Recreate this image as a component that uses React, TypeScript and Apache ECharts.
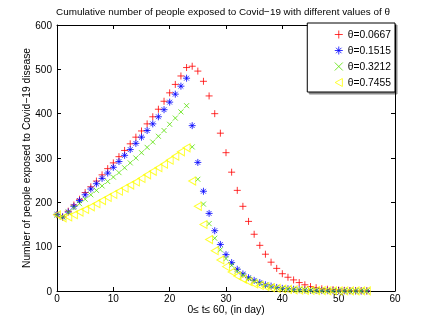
import { useEffect, useRef } from "react";
import * as echarts from "echarts";

const days = [0, 1, 2, 3, 4, 5, 6, 7, 8, 9, 10, 11, 12, 13, 14, 15, 16, 17, 18, 19, 20, 21, 22, 23, 24, 25, 26, 27, 28, 29, 30, 31, 32, 33, 34, 35, 36, 37, 38, 39, 40, 41, 42, 43, 44, 45, 46, 47, 48, 49, 50, 51, 52, 53, 54, 55];

const red = [172, 167, 180, 194, 207, 222, 235, 248, 262, 276, 289, 303, 317, 332, 347, 361, 377, 393, 410, 428, 447, 466, 485, 504, 507, 496, 473, 440, 400, 356, 312, 268, 227, 191, 157, 128, 103, 83, 65, 51, 39, 31, 25, 19, 14, 10, 7.5, 5, 4, 3, 2, 1.5, 1, 0.8, 0.5, 0.4];
const blue = [173, 167, 178, 191, 204, 217, 230, 242, 254, 266, 279, 292, 306, 319, 333, 347, 362, 377, 393, 409, 426, 444, 462, 480, 373, 290, 225, 175, 136, 105, 82, 64, 49, 38.5, 30, 24, 19, 14, 11, 8, 6, 5, 4, 3, 2.2, 1.6, 1.2, 0.9, 0.7, 0.5, 0.4, 0.3, 0.2, 0.2, 0.1, 0.1];
const green = [171, 167, 178, 188, 197, 207, 217, 227, 237, 247, 257, 267, 278, 289, 300, 312, 324, 336, 349, 362, 376, 390, 404, 418, 325, 252, 196, 152, 119, 93, 73, 58, 45, 36, 28, 22, 17, 13, 10, 7.5, 5.5, 4.3, 3.3, 2.5, 2, 1.5, 1.1, 0.8, 0.6, 0.5, 0.4, 0.3, 0.2, 0.2, 0.1, 0.1];
const yellow = [172, 165, 167, 172, 178, 184, 190, 197, 204, 211, 218, 225, 232, 239, 246, 254, 262, 270, 278, 286, 295, 304, 314, 323, 248, 191, 150, 116, 91, 70, 55, 43, 34, 27, 21, 16, 12.5, 10, 7.5, 6, 4.5, 3.5, 2.7, 2, 1.6, 1.2, 0.9, 0.7, 0.5, 0.4, 0.3, 0.25, 0.2, 0.15, 0.1, 0.1];

const seriesNames = ["θ=0.0667", "θ=0.1515", "θ=0.3212", "θ=0.7455"];
const titleText = "Cumulative number of people exposed to Covid−19 with different values of θ";
const xAxisName = "0≤ t≤ 60, (in day)";
const yAxisName = "Number of people exposed to Covid−19 disease";

const FONT = "'Liberation Sans', Arial, Helvetica, sans-serif";

const PLUS = "path://M5,0L5,10M0,5L10,5";
const STAR = "path://M5,0L5,10M0,5L10,5M1.6,1.6L8.4,8.4M1.6,8.4L8.4,1.6";
const CROSS = "path://M0,0L10,10M0,10L10,0";
const TRI = "path://M0,5L9,0L9,10Z";

export default function App() {
  const ref = useRef<HTMLDivElement>(null);
  useEffect(() => {
    if (!ref.current) return;
    const chart = echarts.init(ref.current, undefined, { renderer: "svg" });
    const mk = (name: string, vals: number[], color: string, symbol: string, size: number | number[]) => ({
      name,
      type: "scatter",
      data: days.map((d, i) => [d, vals[i]]),
      symbol,
      symbolSize: size,
      itemStyle: { color: "none", borderColor: color, borderWidth: 1 },
      emphasis: { disabled: true },
    });
    const axisCommon = {
      axisLine: { show: true, onZero: false, lineStyle: { color: "#000", width: 1 } },
      axisTick: { show: true, inside: true, length: 4, lineStyle: { color: "#000" } },
      splitLine: { show: false },
    };
    chart.setOption({
      animation: false,
      textStyle: { fontFamily: FONT },
      graphic: [
        {
          type: "text",
          x: 223,
          y: 11,
          style: { text: titleText, fontSize: 9.9, fontFamily: FONT, fill: "#000", textAlign: "center", textVerticalAlign: "middle" },
        },
      ],
      grid: { left: 57, right: 41, top: 25, bottom: 37, containLabel: false, outerBoundsMode: "none" },
      xAxis: [
        {
          type: "value", min: 0, max: 60, interval: 10, position: "bottom",
          name: xAxisName, nameLocation: "middle", nameGap: 13, nameMoveOverlap: false,
          nameTextStyle: { fontSize: 10.3, color: "#000", fontFamily: FONT },
          axisLabel: { fontSize: 10, color: "#000", margin: 2, fontFamily: FONT },
          ...axisCommon,
        },
        {
          type: "value", min: 0, max: 60, interval: 10, position: "top",
          axisLabel: { show: false },
          ...axisCommon,
        },
      ],
      yAxis: [
        {
          type: "value", min: 0, max: 600, interval: 100, position: "left",
          name: yAxisName, nameLocation: "middle", nameGap: 26, nameRotate: 90, nameMoveOverlap: false,
          nameTextStyle: { fontSize: 10.3, color: "#000", fontFamily: FONT },
          axisLabel: { fontSize: 10, color: "#000", margin: 5, fontFamily: FONT },
          ...axisCommon,
        },
        {
          type: "value", min: 0, max: 600, interval: 100, position: "right",
          axisLabel: { show: false },
          ...axisCommon,
        },
      ],
      legend: {
        orient: "vertical",
        align: "left",
        right: 41,
        top: 23,
        padding: [5, 4, 3, 25],
        itemGap: 3,
        itemWidth: 8,
        itemHeight: 8,
        itemTextGap: 20,
        backgroundColor: "#fff",
        borderColor: "#000",
        borderWidth: 1,
        borderRadius: 0,
        shadowColor: "rgba(0,0,0,0.45)",
        shadowOffsetX: 2,
        shadowOffsetY: 2,
        shadowBlur: 0,
        itemStyle: { borderWidth: 1 },
        textStyle: { fontSize: 10.3, color: "#000", lineHeight: 12, fontFamily: FONT },
        selectedMode: false,
        data: seriesNames,
      },
      series: [
        mk(seriesNames[0], red, "#ff0000", PLUS, 7),
        mk(seriesNames[1], blue, "#0000ff", STAR, 7),
        mk(seriesNames[2], green, "#55e000", CROSS, 5),
        mk(seriesNames[3], yellow, "#ffff00", TRI, [7, 8]),
      ],
    });
    return () => chart.dispose();
  }, []);
  return <div ref={ref} style={{ position: "fixed", left: 0, top: 0, width: 436, height: 328 }} />;
}
